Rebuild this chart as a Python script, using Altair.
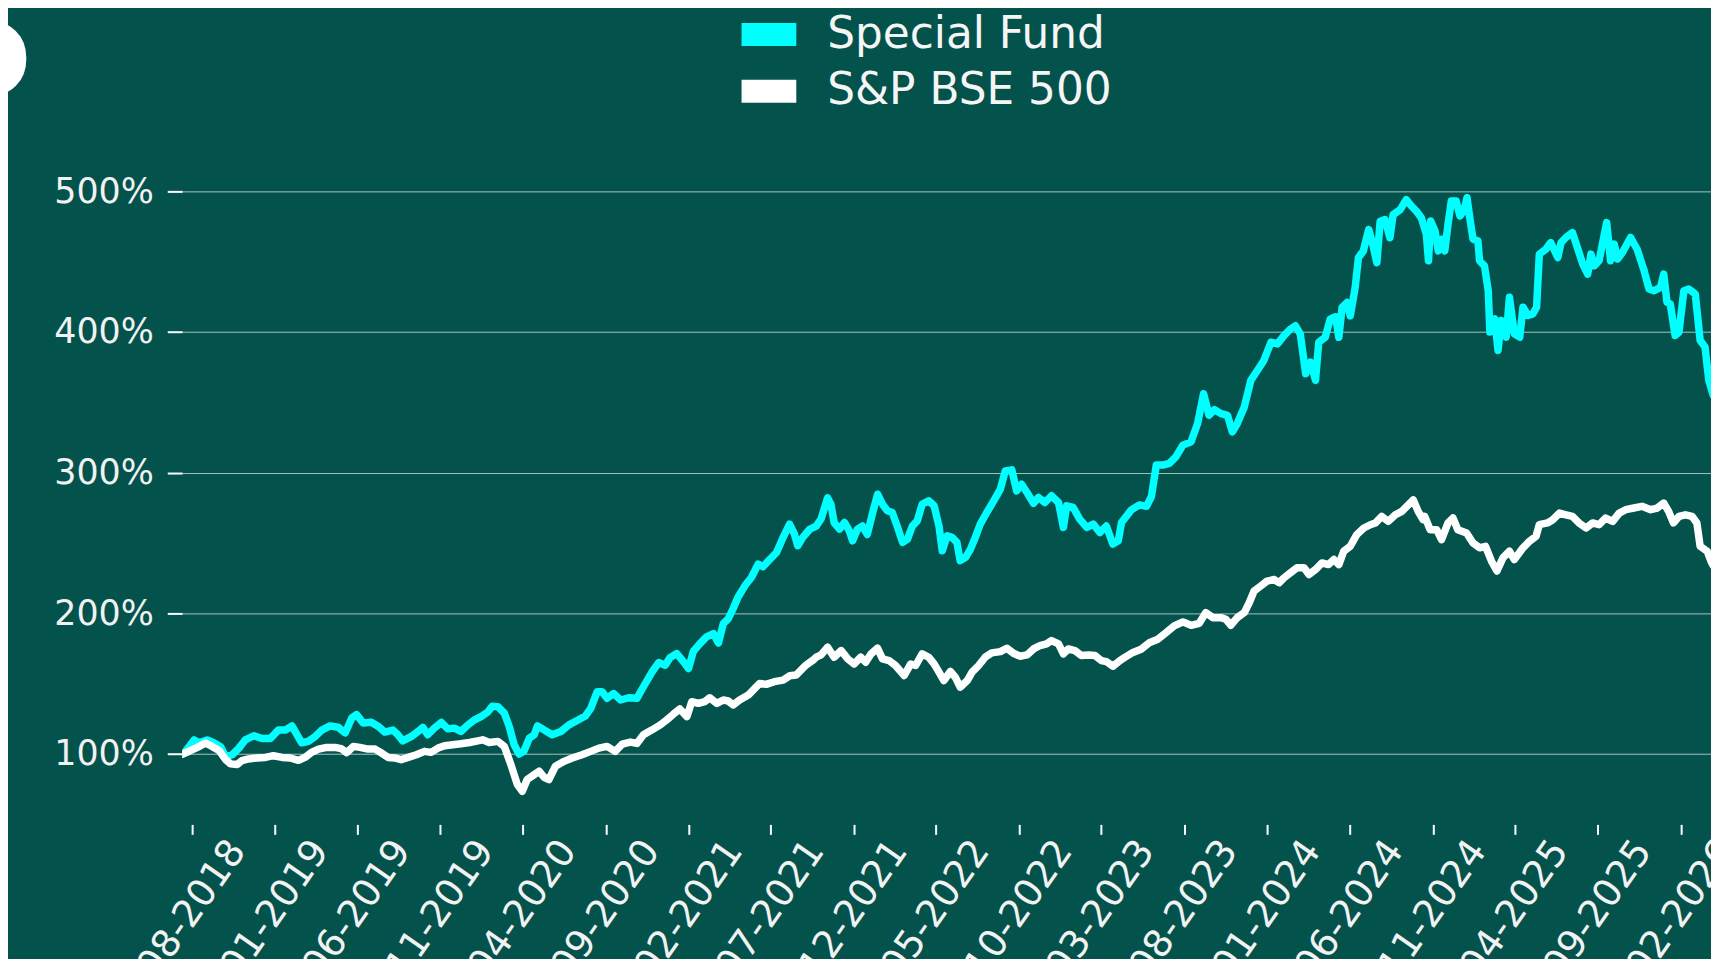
import altair as alt
import pandas as pd

BASE_DATE = "2018-08-01"
series_names = ["Special Fund", "S&P BSE 500"]
series_colors = ["#00FFFF", "#FFFFFF"]

# Special Fund: days after BASE_DATE and value (%)
fund_days = [-17, -12, 4, 13, 28, 40, 53, 62, 74, 86, 98, 114, 129, 144, 159, 172, 184, 193, 202, 214,
             227, 239, 254, 269, 282, 294, 303, 315, 330, 343, 355, 370, 379, 388, 404, 416, 425, 434, 446, 459,
             471, 483, 495, 508, 520, 532, 544, 553,
             563, 575, 584, 593, 602, 611, 621, 630, 636, 648, 663, 679, 694, 709, 724, 734, 746, 755, 764, 776,
             789, 804, 819, 831, 847, 859, 871, 880, 892, 905, 914, 923, 935, 947, 960, 969, 978, 987, 996, 1005,
             1018, 1030, 1042, 1051, 1063, 1076, 1088, 1100, 1109, 1115, 1124, 1137,
             1149, 1158, 1170, 1176, 1182, 1192, 1201, 1210, 1216, 1225, 1234, 1243, 1253, 1262, 1271, 1280, 1289, 1298, 1308, 1317,
             1326, 1335, 1344, 1356, 1366, 1375, 1381, 1390, 1399, 1408, 1414, 1424, 1433, 1442, 1451, 1463, 1476, 1488, 1497, 1509,
             1518, 1527, 1537, 1549, 1558, 1570, 1582, 1595, 1604, 1610, 1622, 1634, 1647, 1659, 1671, 1683, 1695, 1705, 1711,
             1729, 1744, 1757, 1766, 1775, 1787, 1799, 1811, 1824, 1839, 1851, 1862, 1872, 1882, 1894, 1906, 1915, 1924, 1937, 1949,
             1961, 1973, 1986, 1998, 2010, 2022, 2031, 2040, 2050, 2059, 2068, 2074, 2086, 2095, 2105, 2111, 2117, 2126, 2132, 2141,
             2147, 2156, 2166, 2172, 2181, 2187, 2196, 2205, 2211, 2224, 2235, 2245, 2254, 2263,
             2272, 2276, 2280, 2288, 2294, 2300, 2306, 2312, 2318, 2327, 2334, 2341, 2347, 2352, 2358, 2367, 2370, 2379, 2386, 2389,
             2398, 2404, 2410, 2419, 2425, 2434, 2444, 2450, 2459, 2468, 2475, 2480, 2492, 2501, 2514, 2520, 2529, 2541, 2550, 2560,
             2569, 2575, 2581, 2590, 2596, 2604, 2611, 2618, 2624, 2633, 2648, 2660, 2672, 2682, 2691, 2703, 2709, 2715, 2721, 2730,
             2737, 2746, 2755, 2767, 2776, 2785, 2792, 2800]
fund_vals = [100, 102, 110, 108, 110, 108, 105, 98, 99.5, 104, 110, 113, 111, 111, 117, 117, 120, 114, 108, 109,
             112.5, 117, 120, 119, 115, 125.5, 128, 122, 122.6, 119.6, 115.6, 117, 113.7, 109.4, 112.5, 116, 118.9, 113.7, 118.4, 122.4,
             117.9, 118.4, 116, 120.7, 124.3, 126.6, 129.7, 134,
             133.7, 129, 119.6, 106.6, 100, 102, 111.3, 113.7, 120, 117.2, 113.7, 116, 120.7, 123.8, 127, 132.5, 144.3, 144.3, 139.6, 143,
             138.4, 140, 139.6, 147.8, 158.4, 165, 163.1, 168.5, 171.4, 165.5, 160.8, 173, 178.4, 183.2, 185.5, 178.9, 192.6, 196.1, 203.2, 211.4,
             219.7, 225.6, 235, 233.1, 238, 243.2, 253.8, 263.3, 256.2, 248, 253.8, 259.7,
             262, 267, 282, 277.5, 264.5, 259.8, 264.5, 258.6, 251.5, 259.8, 262, 256, 271.6, 284.6, 277.5, 272.8, 271.6, 262, 250.4, 252.7,
             262, 265.7, 277.5, 280, 276.4, 262, 244.4, 255, 254, 250.4, 237.4, 239.7, 245.6, 254, 263.4, 271.6, 280, 288.2, 301.2, 301.9,
             287, 291.7, 285.8, 278.2, 282.3, 278.7, 283.5, 278.7, 261, 276.4, 275.2, 266.9, 261, 263.4, 257.4, 262, 249.2, 251.5, 264.5,
             273.5, 277, 276, 283, 305.3, 305.3, 306.5, 311.2, 319.5, 321.8, 334.8, 356, 340.7, 344.7, 341.9, 340.7, 328.9, 334.8, 346.6, 365.5,
             372.5, 379.6, 392.6, 391.4, 397.3, 402, 404.3, 398.4, 370.2, 378.4, 365.5, 392.6, 396.1, 409, 410.7, 396.1, 417.3, 420.8, 411.4, 431.4,
             452.6, 457.4, 472.7, 464.4, 449.1, 478.6, 479.8, 466.8, 483.3, 486.8, 493.9, 489.2, 485.6, 480.9,
             469.3, 450.5, 478.8, 471.7, 457.5, 465.8, 457.5, 476.4, 492.9, 492.9, 482.3, 485.8, 495.3, 481.1, 465.8, 464.6, 450.5, 446.9, 429.2, 399.8,
             409.2, 386.8, 408, 396.2, 424.5, 398.6, 396.2, 417.5, 411.6, 412.7, 417.5, 455.2, 458.7, 463.4, 452.8, 463.4, 467, 470.5, 459.9, 448.1,
             441, 455.2, 446.9, 450.5, 462.3, 477.6, 450.5, 462.3, 451.7, 456.4, 467, 458.7, 444.6, 430.4, 429.2, 431.6, 441, 421, 419.8, 397.4,
             399.8, 429.2, 430.4, 426.9, 393.9, 389.2, 365.6, 355]

# S&P BSE 500: days after BASE_DATE and value (%)
bse_days = [-17, -5, 10, 25, 37, 50, 62, 71, 83, 92, 104, 120, 135, 150, 166, 181, 196, 208, 221, 233,
            248, 263, 275, 285, 297, 309, 324, 337, 349, 361, 373, 385, 398, 413, 428, 440, 453, 465, 480, 495,
            511, 526, 535, 547,
            563, 575, 587, 599, 608, 617, 630, 639, 648, 657, 669, 685, 700, 718, 734, 749, 764, 779, 792, 807,
            819, 831, 847, 862, 874, 886, 898, 911, 920, 932, 944, 953, 966, 978, 987, 996, 1008, 1024, 1036, 1045,
            1057, 1072, 1088, 1100, 1112, 1121, 1130, 1143,
            1149, 1158, 1170, 1182, 1195, 1207, 1219, 1231, 1240, 1250, 1262, 1271, 1283, 1295, 1311, 1323, 1332, 1344, 1356, 1366,
            1375, 1384, 1396, 1405, 1414, 1427, 1436, 1448, 1460, 1472, 1488, 1500, 1512, 1524, 1537, 1549, 1561, 1573, 1582, 1595,
            1604, 1613, 1625, 1637, 1650, 1662, 1674, 1683, 1695, 1708,
            1717, 1732, 1747, 1763, 1778, 1793, 1808, 1824, 1839, 1854, 1866, 1879, 1894, 1903, 1912, 1924, 1937, 1946, 1955, 1967,
            1979, 1992, 2001, 2010, 2022, 2034, 2047, 2056, 2068, 2080, 2092, 2102, 2111, 2120, 2132, 2144, 2157, 2169, 2178, 2190,
            2202, 2215, 2227, 2236, 2248, 2257, 2266,
            2269, 2279, 2291, 2300, 2312, 2321, 2330, 2346, 2358, 2370, 2381, 2392, 2402, 2413, 2425, 2434, 2450, 2462, 2474, 2480,
            2495, 2505, 2517, 2529, 2541, 2553, 2566, 2578, 2590, 2602, 2615, 2627, 2639, 2654, 2669, 2685, 2697, 2709, 2718, 2727,
            2737, 2749, 2761, 2770, 2776, 2789, 2796, 2800]
bse_vals = [100, 102, 104.7, 107.8, 105.4, 102.4, 96, 93, 92.5, 95.3, 96.5, 97.2, 97.6, 98.8, 97.6, 97.2, 95.5, 97.6, 101.4, 103.5,
            104.7, 104.7, 103.8, 101, 105.4, 104.7, 103.5, 103.5, 100.7, 97.6, 97.2, 96, 97.6, 99.5, 101.9, 101.2, 104.2, 105.9, 106.6, 107.3,
            108.2, 109.4, 110.1, 108.2,
            109, 105.4, 92.5, 78.3, 73.6, 81.9, 85.4, 87.8, 83.5, 81.9, 91.3, 94.8, 97.2, 99.5, 101.9, 104.2, 105.4, 101.9, 107, 108.5,
            107.5, 113.7, 117.2, 120.7, 124.3, 128.3, 132, 126.6, 137.2, 136, 137.2, 140, 136, 138.4, 137.7, 134.9, 138.4, 141.9, 146.6, 150.2,
            149.5, 151.4, 152.5, 155.6, 156.1, 159.6, 163.1, 166.7,
            168.8, 170.4, 175.9, 168.8, 173.5, 167.6, 164, 168.8, 165.2, 171.2, 175.2, 167.6, 166.4, 162.9, 155.8, 164, 162.9, 171.2, 168.8, 164,
            158.2, 152.2, 158.6, 154.6, 147.5, 152.2, 158.2, 162.9, 168.8, 171.9, 172.8, 175.2, 171.6, 169.5, 170.4, 174.7, 177.1, 178.3, 180.6, 178.3,
            171.2, 174.7, 173.5, 170, 170.4, 170, 166.4, 165.7, 162.4, 166.4,
            168.7, 172.2, 174.5, 179.3, 181.6, 186.3, 191, 193.9, 191.5, 192.9, 200.5, 196.9, 196.9, 195.8, 191.5, 196.9, 200.5, 207.5, 215.8, 219.3,
            222.9, 224, 221.7, 225.2, 228.8, 232.3, 232.3, 227.6, 231.1, 235.8, 234.6, 238.2, 234.6, 244.1, 247.6, 255.9, 260.6, 262.9, 264.1, 268.8,
            265.3, 270, 272.4, 275.9, 280.6, 272.4, 266.5,
            268.9, 259.4, 259.4, 252.4, 264.2, 267.7, 259.4, 257.1, 250, 246.5, 247.6, 237, 230, 239.4, 244.1, 238.2, 246.5, 251.2, 254.7, 263,
            264.2, 266.5, 271.2, 270, 268.9, 264.2, 260.6, 264.2, 263, 267.7, 265.3, 271.2, 273.6, 274.8, 276, 273.6, 274.8, 278.3, 272.4, 264.2,
            268.9, 270, 268.9, 264.2, 247.6, 244.1, 237, 234]

y_ticks = [100, 200, 300, 400, 500]
x_tick_months = [(2018, 8), (2019, 1), (2019, 6), (2019, 11), (2020, 4), (2020, 9), (2021, 2),
                 (2021, 7), (2021, 12), (2022, 5), (2022, 10), (2023, 3), (2023, 8), (2024, 1),
                 (2024, 6), (2024, 11), (2025, 4), (2025, 9), (2026, 2)]
title_fragment = ["D"]

BG = "#04524c"
FONT = "DejaVu Sans"

base = pd.Timestamp(BASE_DATE)
df = pd.concat([
    pd.DataFrame({"date": base + pd.to_timedelta(fund_days, unit="D"),
                  "value": fund_vals, "series": series_names[0]}),
    pd.DataFrame({"date": base + pd.to_timedelta(bse_days, unit="D"),
                  "value": bse_vals, "series": series_names[1]}),
], ignore_index=True)

# legend key rows (placed below the visible y-range, so only their legend entries show)
legend_df = pd.DataFrame({"series": series_names, "date": [base, base], "value": [0, 0]})

x_enc = alt.X(
    "date:T",
    scale=alt.Scale(domain=[alt.DateTime(year=2018, month=7, date=14),
                            alt.DateTime(year=2026, month=3, date=28)]),
    axis=alt.Axis(
        values=[alt.DateTime(year=y, month=m, date=1) for y, m in x_tick_months],
        format="%m-%Y", labelAngle=-55, labelAlign="center", labelBaseline="middle",
        labelPadding=75, tickSize=10, tickWidth=2, tickColor="white",
        domain=False, grid=False, labelFontSize=38, labelColor="#f2f2f2", labelFont=FONT,
        labelOverlap=False, labelBound=False, labelFlush=False, title=None),
)
y_enc = alt.Y(
    "value:Q",
    scale=alt.Scale(domain=[50, 550], nice=False, zero=False),
    axis=alt.Axis(values=y_ticks, labelExpr="datum.value + '%'", tickSize=15, tickWidth=2,
                  tickColor="white", gridColor="white", gridOpacity=0.65, gridWidth=1,
                  domain=False, labelPadding=14, labelFontSize=35, labelColor="#f2f2f2",
                  labelFont=FONT, title=None),
)
legend = alt.Legend(title=None, orient="none", legendX=562, legendY=-114,
                    symbolType="M-1,-0.42H1V0.42H-1Z", symbolSize=3025, symbolStrokeWidth=0,
                    labelFontSize=44, labelColor="#f5f5f5", labelFont=FONT, labelOffset=31,
                    labelLimit=0, rowPadding=7, padding=0, symbolOpacity=1)

line_stroke = alt.Stroke("series:N", scale=alt.Scale(domain=series_names, range=series_colors),
                         legend=None)

lines_base = alt.Chart(df)
fund_line = lines_base.transform_filter(alt.datum.series == series_names[0]).mark_line(
    clip=True, strokeJoin="round", strokeCap="round").encode(
    x=x_enc, y=y_enc, stroke=line_stroke, strokeWidth=alt.value(7.5))
bse_line = lines_base.transform_filter(alt.datum.series == series_names[1]).mark_line(
    clip=True, strokeJoin="round", strokeCap="round").encode(
    x=x_enc, y=y_enc, stroke=line_stroke, strokeWidth=alt.value(7.5))
legend_layer = alt.Chart(legend_df).mark_point(filled=True, clip=True).encode(
    x=x_enc, y=y_enc,
    color=alt.Color("series:N", scale=alt.Scale(domain=series_names, range=series_colors),
                    legend=legend))

frag = alt.Chart(pd.DataFrame({"t": title_fragment})).mark_text(
    align="right", baseline="alphabetic", fontSize=106, fontWeight="bold",
    color="white", font=FONT).encode(x=alt.value(-151), y=alt.value(-24), text="t:N")

chart = alt.layer(legend_layer, fund_line, bse_line, frag).properties(
    width=1536, height=707,
    autosize=alt.AutoSizeParams(type="none"),
    padding={"left": 175, "top": 111, "right": 0, "bottom": 133},
    background=BG,
).configure_view(stroke=None)

chart.save("out.html", embed_options={"renderer": "svg", "actions": False})
